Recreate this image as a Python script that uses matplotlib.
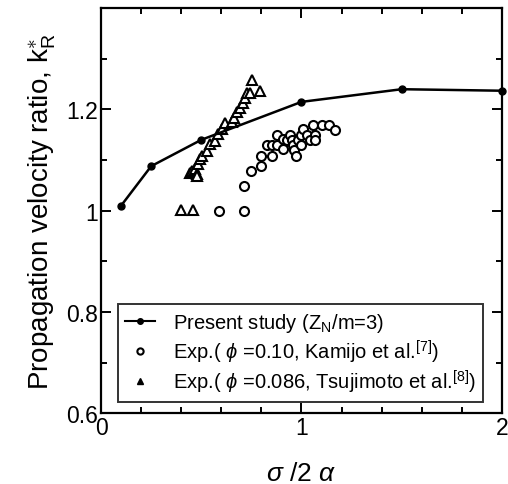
import matplotlib
matplotlib.use('Agg')
import matplotlib.pyplot as plt
from matplotlib.lines import Line2D
from matplotlib.ticker import MultipleLocator, FixedLocator, FixedFormatter

plt.rcParams['font.family'] = ['Liberation Sans', 'DejaVu Sans']
plt.rcParams['mathtext.fontset'] = 'custom'
plt.rcParams['mathtext.rm'] = 'Liberation Sans'
plt.rcParams['mathtext.it'] = 'Liberation Sans:italic'

# Present study (Z_N/m=3)
line_x = [0.1, 0.25, 0.5, 1.0, 1.5, 2.0]
line_y = [1.01, 1.088, 1.14, 1.215, 1.24, 1.237]

# Exp. phi=0.10, Kamijo et al.
circ_x = [0.59, 0.715, 0.715, 0.747, 0.797, 0.797, 0.851, 0.826, 0.851, 0.876,
          0.876, 0.906, 0.909, 0.926, 0.942, 0.951, 0.959, 0.962, 0.972, 0.984,
          1.0, 1.0, 1.009, 1.025, 1.042, 1.059, 1.067, 1.067, 1.1, 1.139, 1.167]
circ_y = [1.0, 1.0, 1.048, 1.078, 1.089, 1.109, 1.109, 1.129, 1.129, 1.15,
          1.129, 1.141, 1.122, 1.139, 1.15, 1.139, 1.129, 1.12, 1.109, 1.139,
          1.129, 1.15, 1.161, 1.15, 1.139, 1.169, 1.15, 1.139, 1.169, 1.169, 1.159]

# Exp. phi=0.086, Tsujimoto et al.
tri_x = [0.397, 0.457, 0.444, 0.452, 0.469, 0.477, 0.477, 0.485, 0.494, 0.502,
         0.527, 0.544, 0.569, 0.585, 0.601, 0.618, 0.651, 0.665, 0.677, 0.693,
         0.710, 0.718, 0.727, 0.743, 0.755, 0.793]
tri_y = [1.002, 1.002, 1.075, 1.079, 1.082, 1.073, 1.069, 1.092, 1.102, 1.109,
         1.118, 1.131, 1.138, 1.151, 1.161, 1.174, 1.175, 1.184, 1.194, 1.203,
         1.213, 1.223, 1.233, 1.233, 1.259, 1.237]

y_ticks = [0.6, 0.8, 1.0, 1.2]
y_labels = ['0.6', '0.8', '1', '1.2']
x_ticks = [0, 1, 2]
x_labels = ['0', '1', '2']

fig = plt.figure(figsize=(5.08, 4.85), dpi=100)
ax = fig.add_axes([0.199, 0.146, 0.789, 0.835])

ax.plot(line_x, line_y, color='black', lw=1.8, marker='o', ms=5, clip_on=False, zorder=3)
ax.plot(circ_x, circ_y, ls='none', marker='o', ms=6.5, mfc='white', mec='black', mew=1.5)
ax.plot(tri_x, tri_y, ls='none', marker='^', ms=6.5, mfc='white', mec='black', mew=1.5)

ax.set_xlim(0, 2)
ax.set_ylim(0.6, 1.4)
ax.xaxis.set_major_locator(FixedLocator(x_ticks))
ax.xaxis.set_major_formatter(FixedFormatter(x_labels))
ax.xaxis.set_minor_locator(MultipleLocator(0.2))
ax.yaxis.set_major_locator(FixedLocator(y_ticks))
ax.yaxis.set_major_formatter(FixedFormatter(y_labels))
ax.yaxis.set_minor_locator(MultipleLocator(0.1))

ax.tick_params(which='both', direction='in', top=True, right=True, width=1.4, labelsize=16.5)
ax.tick_params(which='major', length=7, pad=2)
ax.tick_params(which='minor', length=4.5)
for s in ax.spines.values():
    s.set_linewidth(1.6)

ax.set_ylabel(r'Propagation velocity ratio, k$_\mathregular{R}^{\ast}$', fontsize=20, labelpad=6)
ax.set_xlabel(r'$\sigma\ /2\ \alpha$', fontsize=19, labelpad=16)

handles = [
    Line2D([], [], color='black', lw=1.5, marker='o', ms=4, mew=1),
    Line2D([], [], ls='none', marker='o', ms=4.5, mfc='white', mec='black', mew=1.5),
    Line2D([], [], ls='none', marker='^', ms=4.5, mfc='black', mec='black'),
]
labels = [
    r'Present study (Z$_\mathregular{N}$/m=3)',
    r'Exp.( $\phi$ =0.10, Kamijo et al.$^\mathregular{[7]}$)',
    r'Exp.( $\phi$ =0.086, Tsujimoto et al.$^\mathregular{[8]}$)',
]
leg = ax.legend(handles, labels, loc='upper left', bbox_to_anchor=(0.042, 0.269),
                borderaxespad=0, fontsize=14.5, frameon=True, fancybox=False,
                edgecolor='black', handlelength=1.5, handletextpad=0.9,
                labelspacing=0.15, borderpad=0.35)
leg.get_frame().set_linewidth(1.4)

fig.savefig('out.png', dpi=100)
